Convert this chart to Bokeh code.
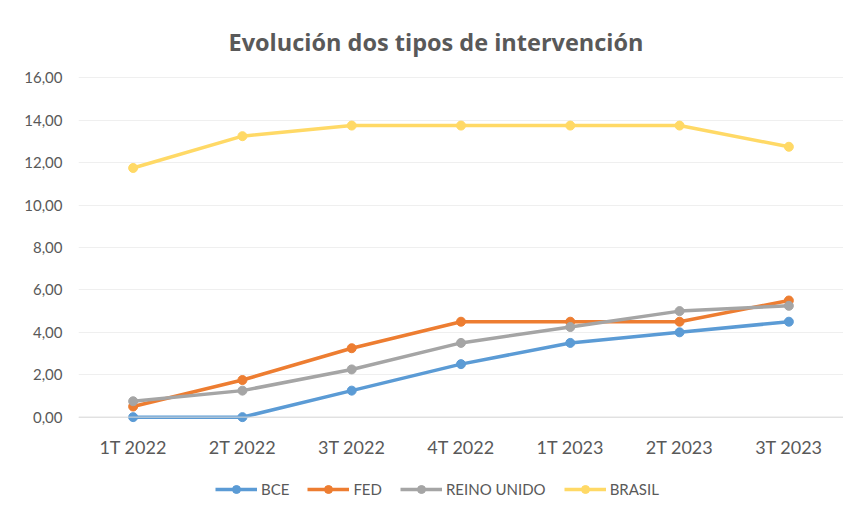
from bokeh.plotting import figure
from bokeh.layouts import column
from bokeh.models import (FactorRange, Range1d, FixedTicker, CustomJSTickFormatter,
                          Legend, LegendItem, Span, ColumnDataSource, Title)
from bokeh.embed import file_html
from bokeh.resources import INLINE

quarters = ["1T 2022", "2T 2022", "3T 2022", "4T 2022", "1T 2023", "2T 2023", "3T 2023"]
bce = [0.0, 0.0, 1.25, 2.5, 3.5, 4.0, 4.5]
fed = [0.5, 1.75, 3.25, 4.5, 4.5, 4.5, 5.5]
reino_unido = [0.75, 1.25, 2.25, 3.5, 4.25, 5.0, 5.25]
brasil = [11.75, 13.25, 13.75, 13.75, 13.75, 13.75, 12.75]
y_ticks = [0, 2, 4, 6, 8, 10, 12, 14, 16]

series = [("BCE", bce, "#5B9BD5"), ("FED", fed, "#ED7D31"),
          ("REINO UNIDO", reino_unido, "#A5A5A5"), ("BRASIL", brasil, "#FFD966")]

FONT = "Lato"
GREY = "#595959"

xr = FactorRange(*quarters)
p = figure(width=843, height=470, x_range=xr,
           y_range=Range1d(-0.3, 16.3), output_backend="svg", toolbar_location=None,
           min_border_left=78, min_border_right=0, min_border_top=71, min_border_bottom=47)
p.title = None
t = Title(text="Evolución dos tipos de intervención", align="left", offset=150, standoff=28,
          text_font="Open Sans", text_font_size="23.5px", text_font_style="bold", text_color=GREY)
p.add_layout(t, "above")

p.outline_line_color = None
p.xgrid.grid_line_color = None
p.ygrid.grid_line_color = "#EFEFEF"
p.ygrid.ticker = FixedTicker(ticks=y_ticks)
p.yaxis.ticker = FixedTicker(ticks=y_ticks)
p.yaxis.formatter = CustomJSTickFormatter(code="return tick.toFixed(2).replace('.', ',');")
for ax in (p.xaxis, p.yaxis):
    ax.axis_line_color = None
    ax.major_tick_line_color = None
    ax.minor_tick_line_color = None
    ax.major_label_text_font = FONT
    ax.major_label_text_color = GREY
p.yaxis.major_label_text_font_size = "15px"
p.xaxis.major_label_text_font_size = "18px"
p.yaxis.major_label_standoff = 10
p.xaxis.major_label_standoff = 6

p.add_layout(Span(location=0, dimension="width", line_color="#D9D9D9", line_width=1))

for name, vals, color in series:
    src = ColumnDataSource(dict(x=quarters, y=vals))
    p.line("x", "y", source=src, line_color=color, line_width=3.5)
    p.scatter("x", "y", source=src, size=9, fill_color=color, line_color=color)

# legend strip below the chart (its lines lie outside its own visible range)
pl = figure(width=843, height=32, x_range=xr, y_range=Range1d(100, 101),
            output_backend="svg", toolbar_location=None, min_border=0,
            x_axis_location=None, y_axis_location=None)
pl.outline_line_color = None
pl.grid.visible = False
items = []
for name, vals, color in series:
    src = ColumnDataSource(dict(x=quarters, y=vals))
    r1 = pl.line("x", "y", source=src, line_color=color, line_width=3.5)
    r2 = pl.scatter("x", "y", source=src, size=9, fill_color=color, line_color=color)
    items.append(LegendItem(label=name, renderers=[r1, r2]))
legend = Legend(items=items, orientation="horizontal", location=(137, 3),
                label_text_font=FONT, label_text_font_size="15px", label_text_color=GREY,
                glyph_width=42, label_standoff=4, spacing=18, padding=0, margin=0,
                border_line_color=None, background_fill_alpha=0)
pl.add_layout(legend)

layout = column(p, pl, spacing=0)
open("out.html", "w").write(file_html(layout, INLINE))
